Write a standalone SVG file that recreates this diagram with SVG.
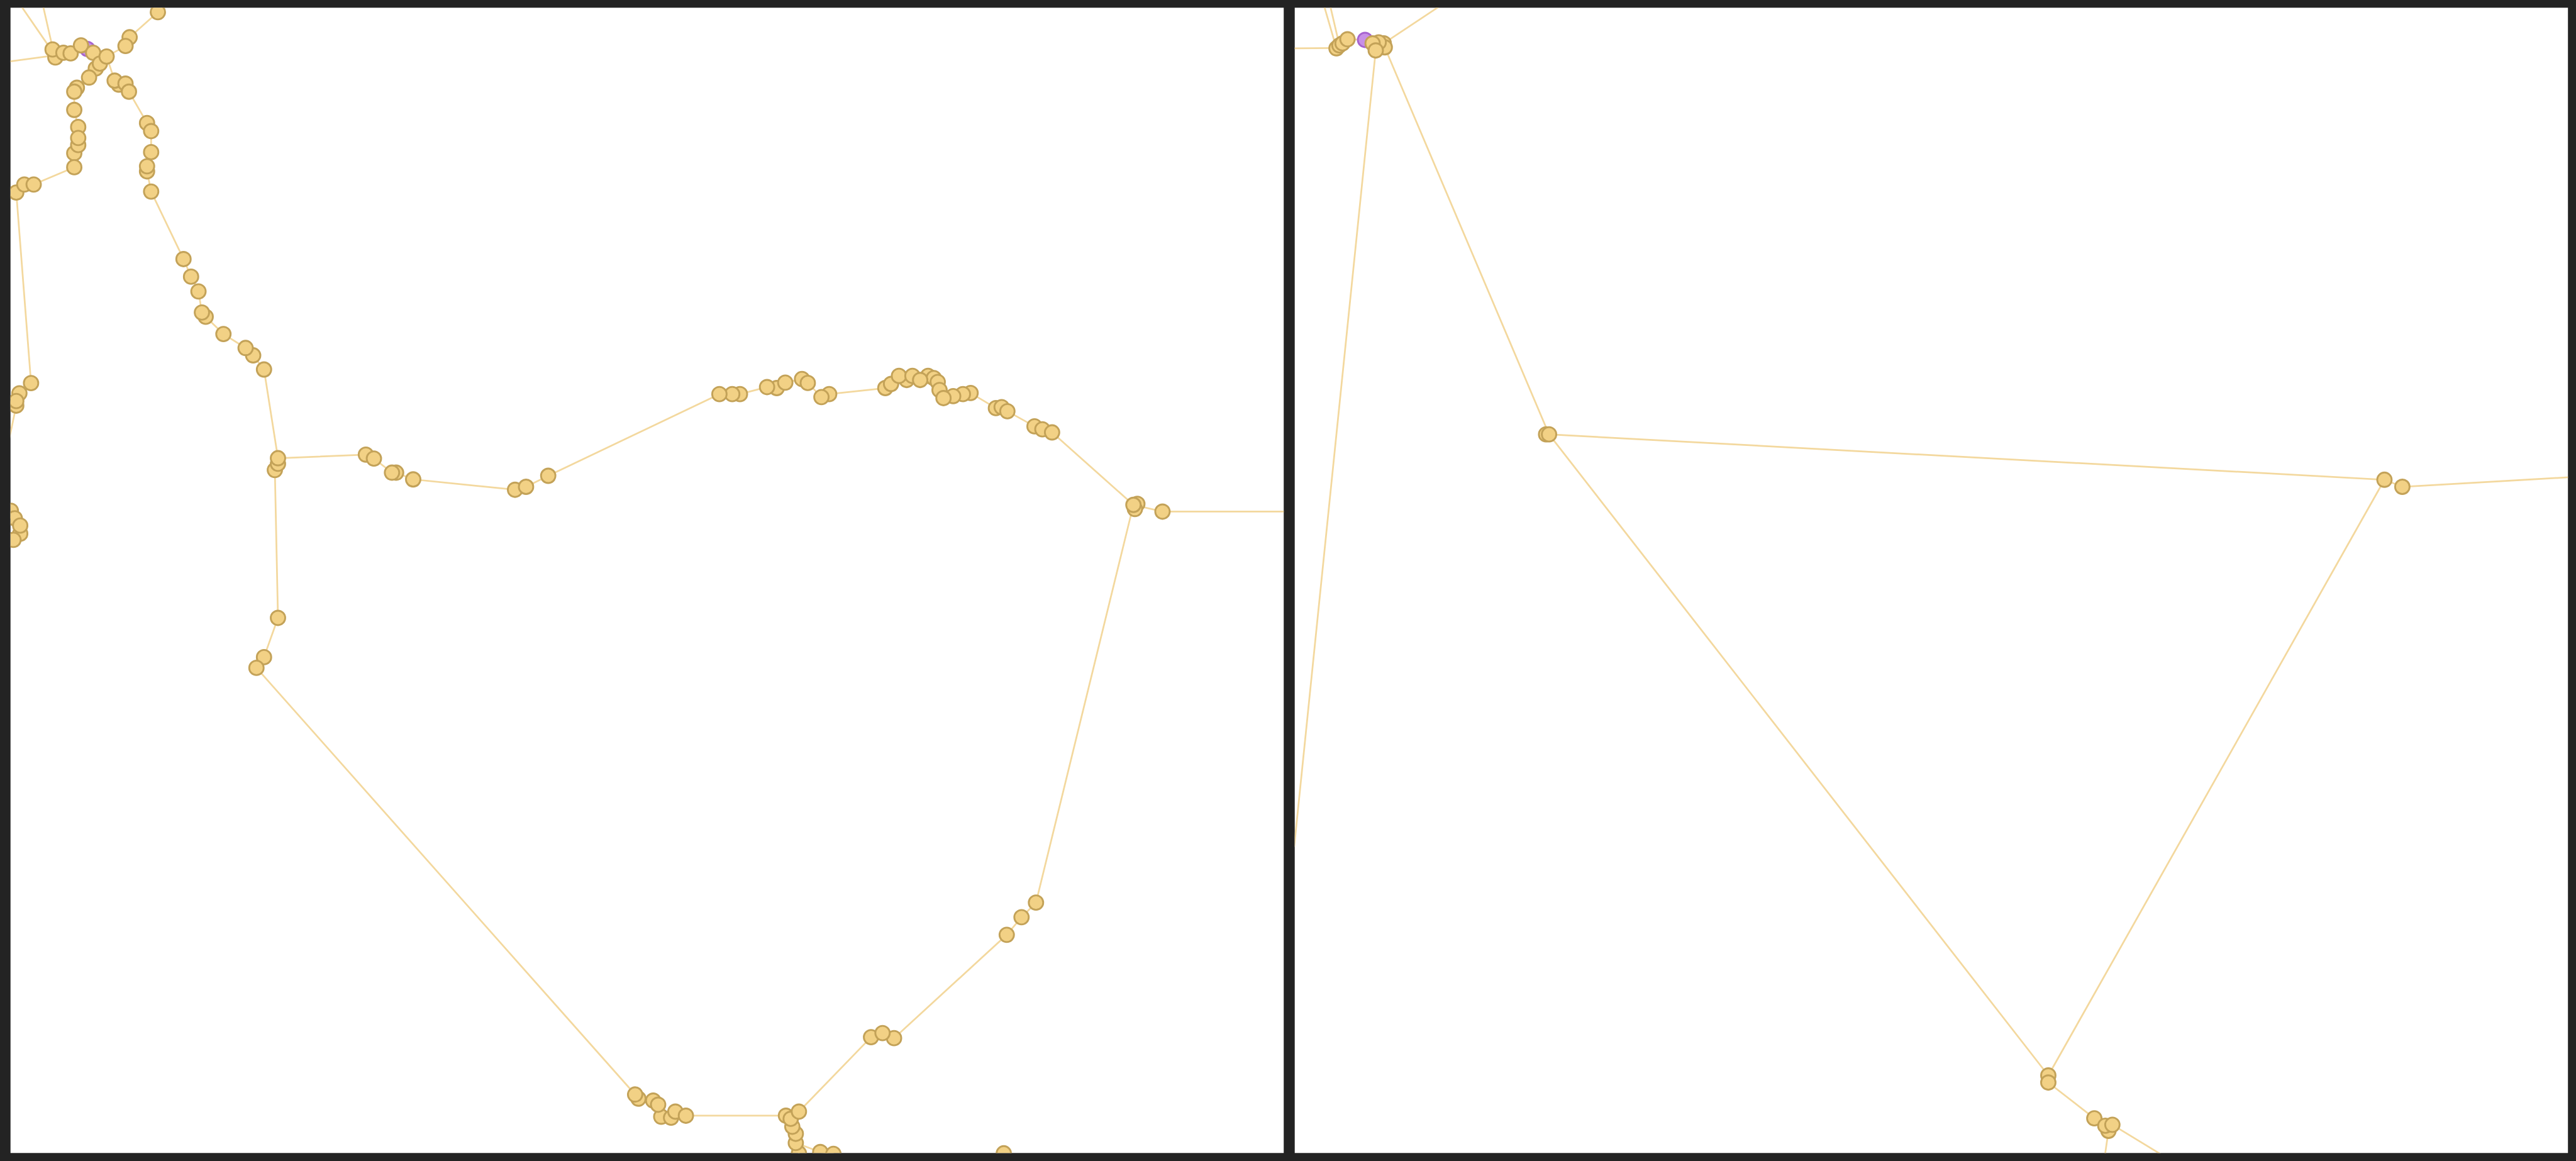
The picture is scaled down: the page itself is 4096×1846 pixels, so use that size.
<svg xmlns="http://www.w3.org/2000/svg" width="4096" height="1846" viewBox="0 0 4096 1846">
<style>
.bg{fill:#232323}
.panel{fill:#ffffff}
.e{fill:none;stroke:#f3d89e;stroke-width:1.05;stroke-linejoin:round;stroke-linecap:round}
.n circle{fill:#f2d185;stroke:#c3a258;stroke-width:1.1}
.p circle{fill:#c890e6;stroke:#a764d0;stroke-width:1.1}
</style>
<defs>
<clipPath id="clipL" clipPathUnits="userSpaceOnUse"><rect x="6.4" y="4.7" width="775" height="697.1"/></clipPath>
<clipPath id="clipR" clipPathUnits="userSpaceOnUse"><rect x="788.1" y="4.7" width="775" height="697.1"/></clipPath>
</defs>
<rect class="bg" x="0" y="0" width="4096" height="1846"/>
<g transform="scale(2.612245)">
<rect class="panel" x="6.4" y="4.7" width="775" height="697.1"/>
<rect class="panel" x="788.1" y="4.7" width="775" height="697.1"/>

<g id="left-panel" clip-path="url(#clipL)">
<g id="connectors-left">
<polyline class="e" points="13.1,4 31,30"/>
<polyline class="e" points="26.3,4 32,29"/>
<polyline class="e" points="6,37.4 31,34"/>
<polyline class="e" points="32,30.1 33.7,35 38.6,32.1 43,32.5 49.3,27.6 53.2,29.8 56.7,32.1 60.8,38.7 64.9,34.4 76.4,28 78.9,22.7 96.1,7.4"/>
<polyline class="e" points="60.8,38.7 58.3,41.7 54.2,47.2 46.8,53.4 45.2,55.8 45.2,66.9 47.6,77.3 47.6,84 47.6,88.3 45.2,93.3 45.2,101.8 20.5,112.3 14.8,112.3 9.9,117.2 18.9,233.2 11.8,239.4 9.9,244.1 9.9,246.9 5,270"/>
<polyline class="e" points="64.9,34.4 69.8,49.1 72.3,51.5 76.4,50.9 78.5,55.8 89.5,74.9 92,79.8 92,92.6 89.5,101.2 89.5,104.3 92,116.6 111.7,157.7 116.3,168.4 120.8,177.4 122.9,190.2 125.2,192.8 136,203.3 149.5,211.8 154.1,216.3 160.7,224.9 169.2,278.9"/>
<polyline class="e" points="169.2,278.9 222.7,276.7 227.6,279.1 238.6,287.7 241.1,287.7 251.5,291.8 313.5,298.1 320.2,296.3 333.7,289.6 437.9,239.9 445.7,239.9 450.4,239.9 466.9,235.6 472.8,236.2 478,232.9 488.2,230.7 491.7,233.1 500,241.7 504.7,239.9 538.9,236.2 542.4,233.7 547.2,228.8 551.9,231.3 555.4,228.8 560.1,231.3 564.9,228.8 568.4,230.1 570.8,232.5 571.9,237.4 574.3,242.3 580.2,241.1 586.1,239.9 590.8,239.2 606.2,248.4 609.7,247.8 613.2,250.3 629.7,259.5 634.5,261.3 640.4,263.2 689.9,307.3 707.6,311.4 782,311.4"/>
<polyline class="e" points="169.2,278.9 167.3,286.1 169.2,376.1 160.7,400 156.1,406.5 386.6,666.2 388.6,668.7 397.6,669.9 400.6,672.4 402.5,679.7 408.5,680.3 411.1,676.6 417.5,679.1 478.4,679.1 481.3,681 486.3,676.6"/>
<polyline class="e" points="486.3,676.6 530.2,631.3 537.2,628.8 544.2,631.9 612.8,569 621.8,558.3 630.6,549.4 689.9,307.3"/>
<polyline class="e" points="481.3,681 482.3,685.8 484.4,690.1 484.4,695.7 486.3,702"/>
<polyline class="e" points="484.4,695.7 499.3,701.2 507.3,702.3"/>
</g>
<g id="nodes-left">
<g id="L-purple" class="p"><circle cx="53.2" cy="29.8" r="4.4"/></g>
<g id="L1" class="n"><circle cx="96.1" cy="7.4" r="4.4"/></g>
<g id="L2" class="n"><circle cx="33.7" cy="35" r="4.4"/></g>
<g id="L3" class="n"><circle cx="32" cy="30.1" r="4.4"/></g>
<g id="L4" class="n"><circle cx="38.6" cy="32.1" r="4.4"/></g>
<g id="L5" class="n"><circle cx="43" cy="32.5" r="4.4"/></g>
<g id="L6" class="n"><circle cx="49.3" cy="27.6" r="4.4"/></g>
<g id="L7" class="n"><circle cx="56.7" cy="32.1" r="4.4"/></g>
<g id="L8" class="n"><circle cx="58.3" cy="41.7" r="4.4"/></g>
<g id="L9" class="n"><circle cx="60.8" cy="38.7" r="4.4"/></g>
<g id="L10" class="n"><circle cx="64.9" cy="34.4" r="4.4"/></g>
<g id="L11" class="n"><circle cx="54.2" cy="47.2" r="4.4"/></g>
<g id="L12" class="n"><circle cx="46.8" cy="53.4" r="4.4"/></g>
<g id="L13" class="n"><circle cx="45.2" cy="55.8" r="4.4"/></g>
<g id="L14" class="n"><circle cx="45.2" cy="66.9" r="4.4"/></g>
<g id="L15" class="n"><circle cx="47.6" cy="77.3" r="4.4"/></g>
<g id="L16" class="n"><circle cx="45.2" cy="93.3" r="4.4"/></g>
<g id="L17" class="n"><circle cx="47.6" cy="88.3" r="4.4"/></g>
<g id="L18" class="n"><circle cx="47.6" cy="84" r="4.4"/></g>
<g id="L19" class="n"><circle cx="45.2" cy="101.8" r="4.4"/></g>
<g id="L20" class="n"><circle cx="9.9" cy="117.2" r="4.4"/></g>
<g id="L21" class="n"><circle cx="14.8" cy="112.3" r="4.4"/></g>
<g id="L22" class="n"><circle cx="20.5" cy="112.3" r="4.4"/></g>
<g id="L23" class="n"><circle cx="78.9" cy="22.7" r="4.4"/></g>
<g id="L24" class="n"><circle cx="76.4" cy="28" r="4.4"/></g>
<g id="L25" class="n"><circle cx="72.3" cy="51.5" r="4.4"/></g>
<g id="L26" class="n"><circle cx="69.8" cy="49.1" r="4.4"/></g>
<g id="L27" class="n"><circle cx="76.4" cy="50.9" r="4.4"/></g>
<g id="L28" class="n"><circle cx="78.5" cy="55.8" r="4.4"/></g>
<g id="L29" class="n"><circle cx="89.5" cy="74.9" r="4.4"/></g>
<g id="L30" class="n"><circle cx="92" cy="79.8" r="4.4"/></g>
<g id="L31" class="n"><circle cx="92" cy="92.6" r="4.4"/></g>
<g id="L32" class="n"><circle cx="89.5" cy="104.3" r="4.4"/></g>
<g id="L33" class="n"><circle cx="89.5" cy="101.2" r="4.4"/></g>
<g id="L34" class="n"><circle cx="92" cy="116.6" r="4.4"/></g>
<g id="L35" class="n"><circle cx="18.9" cy="233.2" r="4.4"/></g>
<g id="L36" class="n"><circle cx="11.8" cy="239.4" r="4.4"/></g>
<g id="L37" class="n"><circle cx="9.9" cy="246.9" r="4.4"/></g>
<g id="L38" class="n"><circle cx="9.9" cy="244.1" r="4.4"/></g>
<g id="L39" class="n"><circle cx="6.6" cy="310.9" r="4.4"/></g>
<g id="L40" class="n"><circle cx="9" cy="315.5" r="4.4"/></g>
<g id="L41" class="n"><circle cx="12.3" cy="324.9" r="4.4"/></g>
<g id="L42" class="n"><circle cx="8.2" cy="328.6" r="4.4"/></g>
<g id="L43" class="n"><circle cx="12.3" cy="319.9" r="4.4"/></g>
<g id="L44" class="n"><circle cx="111.7" cy="157.7" r="4.4"/></g>
<g id="L45" class="n"><circle cx="116.3" cy="168.4" r="4.4"/></g>
<g id="L46" class="n"><circle cx="120.8" cy="177.4" r="4.4"/></g>
<g id="L47" class="n"><circle cx="125.2" cy="192.8" r="4.4"/></g>
<g id="L48" class="n"><circle cx="122.9" cy="190.2" r="4.4"/></g>
<g id="L49" class="n"><circle cx="136" cy="203.3" r="4.4"/></g>
<g id="L50" class="n"><circle cx="154.1" cy="216.3" r="4.4"/></g>
<g id="L51" class="n"><circle cx="149.5" cy="211.8" r="4.4"/></g>
<g id="L52" class="n"><circle cx="160.7" cy="224.9" r="4.4"/></g>
<g id="L53" class="n"><circle cx="167.3" cy="286.1" r="4.4"/></g>
<g id="L54" class="n"><circle cx="169.2" cy="282.3" r="4.4"/></g>
<g id="L55" class="n"><circle cx="169.2" cy="278.9" r="4.4"/></g>
<g id="L56" class="n"><circle cx="222.7" cy="276.7" r="4.4"/></g>
<g id="L57" class="n"><circle cx="227.6" cy="279.1" r="4.4"/></g>
<g id="L58" class="n"><circle cx="241.1" cy="287.7" r="4.4"/></g>
<g id="L59" class="n"><circle cx="238.6" cy="287.7" r="4.4"/></g>
<g id="L60" class="n"><circle cx="251.5" cy="291.8" r="4.4"/></g>
<g id="L61" class="n"><circle cx="313.5" cy="298.1" r="4.4"/></g>
<g id="L62" class="n"><circle cx="320.2" cy="296.3" r="4.4"/></g>
<g id="L63" class="n"><circle cx="333.7" cy="289.6" r="4.4"/></g>
<g id="L64" class="n"><circle cx="450.4" cy="239.9" r="4.4"/></g>
<g id="L65" class="n"><circle cx="445.7" cy="239.9" r="4.4"/></g>
<g id="L66" class="n"><circle cx="437.9" cy="239.9" r="4.4"/></g>
<g id="L67" class="n"><circle cx="472.8" cy="236.2" r="4.4"/></g>
<g id="L68" class="n"><circle cx="466.9" cy="235.6" r="4.4"/></g>
<g id="L69" class="n"><circle cx="478" cy="232.9" r="4.4"/></g>
<g id="L70" class="n"><circle cx="488.2" cy="230.7" r="4.4"/></g>
<g id="L71" class="n"><circle cx="491.7" cy="233.1" r="4.4"/></g>
<g id="L72" class="n"><circle cx="504.7" cy="239.9" r="4.4"/></g>
<g id="L73" class="n"><circle cx="500" cy="241.7" r="4.4"/></g>
<g id="L74" class="n"><circle cx="538.9" cy="236.2" r="4.4"/></g>
<g id="L75" class="n"><circle cx="542.4" cy="233.7" r="4.4"/></g>
<g id="L76" class="n"><circle cx="551.9" cy="231.3" r="4.4"/></g>
<g id="L77" class="n"><circle cx="547.2" cy="228.8" r="4.4"/></g>
<g id="L78" class="n"><circle cx="555.4" cy="228.8" r="4.4"/></g>
<g id="L79" class="n"><circle cx="564.9" cy="228.8" r="4.4"/></g>
<g id="L80" class="n"><circle cx="568.4" cy="230.1" r="4.4"/></g>
<g id="L81" class="n"><circle cx="560.1" cy="231.3" r="4.4"/></g>
<g id="L82" class="n"><circle cx="570.8" cy="232.5" r="4.4"/></g>
<g id="L83" class="n"><circle cx="571.9" cy="237.4" r="4.4"/></g>
<g id="L84" class="n"><circle cx="590.8" cy="239.2" r="4.4"/></g>
<g id="L85" class="n"><circle cx="586.1" cy="239.9" r="4.4"/></g>
<g id="L86" class="n"><circle cx="580.2" cy="241.1" r="4.4"/></g>
<g id="L87" class="n"><circle cx="574.3" cy="242.3" r="4.4"/></g>
<g id="L88" class="n"><circle cx="606.2" cy="248.4" r="4.4"/></g>
<g id="L89" class="n"><circle cx="609.7" cy="247.8" r="4.4"/></g>
<g id="L90" class="n"><circle cx="613.2" cy="250.3" r="4.4"/></g>
<g id="L91" class="n"><circle cx="629.7" cy="259.5" r="4.4"/></g>
<g id="L92" class="n"><circle cx="634.5" cy="261.3" r="4.4"/></g>
<g id="L93" class="n"><circle cx="640.4" cy="263.2" r="4.4"/></g>
<g id="L94" class="n"><circle cx="692.3" cy="306.7" r="4.4"/></g>
<g id="L95" class="n"><circle cx="690.8" cy="309.8" r="4.4"/></g>
<g id="L96" class="n"><circle cx="689.9" cy="307.3" r="4.4"/></g>
<g id="L97" class="n"><circle cx="707.6" cy="311.4" r="4.4"/></g>
<g id="L98" class="n"><circle cx="169.2" cy="376.1" r="4.4"/></g>
<g id="L99" class="n"><circle cx="160.7" cy="400" r="4.4"/></g>
<g id="L100" class="n"><circle cx="156.1" cy="406.5" r="4.4"/></g>
<g id="L101" class="n"><circle cx="388.6" cy="668.7" r="4.4"/></g>
<g id="L102" class="n"><circle cx="386.6" cy="666.2" r="4.4"/></g>
<g id="L103" class="n"><circle cx="402.5" cy="679.7" r="4.4"/></g>
<g id="L104" class="n"><circle cx="397.6" cy="669.9" r="4.4"/></g>
<g id="L105" class="n"><circle cx="400.6" cy="672.4" r="4.4"/></g>
<g id="L106" class="n"><circle cx="408.5" cy="680.3" r="4.4"/></g>
<g id="L107" class="n"><circle cx="411.1" cy="676.6" r="4.4"/></g>
<g id="L108" class="n"><circle cx="417.5" cy="679.1" r="4.4"/></g>
<g id="L109" class="n"><circle cx="486.3" cy="702" r="4.4"/></g>
<g id="L110" class="n"><circle cx="499.3" cy="701.2" r="4.4"/></g>
<g id="L111" class="n"><circle cx="507.3" cy="702.3" r="4.4"/></g>
<g id="L112" class="n"><circle cx="611" cy="702" r="4.4"/></g>
<g id="L113" class="n"><circle cx="484.4" cy="695.7" r="4.4"/></g>
<g id="L114" class="n"><circle cx="484.4" cy="690.1" r="4.4"/></g>
<g id="L115" class="n"><circle cx="482.3" cy="685.8" r="4.4"/></g>
<g id="L116" class="n"><circle cx="478.4" cy="679.1" r="4.4"/></g>
<g id="L117" class="n"><circle cx="481.3" cy="681" r="4.4"/></g>
<g id="L118" class="n"><circle cx="486.3" cy="676.6" r="4.4"/></g>
<g id="L119" class="n"><circle cx="530.2" cy="631.3" r="4.4"/></g>
<g id="L120" class="n"><circle cx="544.2" cy="631.9" r="4.4"/></g>
<g id="L121" class="n"><circle cx="537.2" cy="628.8" r="4.4"/></g>
<g id="L122" class="n"><circle cx="612.8" cy="569" r="4.4"/></g>
<g id="L123" class="n"><circle cx="621.8" cy="558.3" r="4.4"/></g>
<g id="L124" class="n"><circle cx="630.6" cy="549.4" r="4.4"/></g>
</g>
</g>

<g id="right-panel" clip-path="url(#clipR)">
<g id="connectors-right">
<polyline class="e" points="806.1,4 813.5,29.4"/>
<polyline class="e" points="809.8,4 815.3,27.6"/>
<polyline class="e" points="787.5,29.4 812,29.2"/>
<polyline class="e" points="813.5,29.4 815.3,27.6 817.2,26.4 820.2,23.9 830.9,24.3 835.5,26.4 839.2,25.8 842.3,26.4 842.9,28.8 837.4,30.7"/>
<polyline class="e" points="842.3,26.4 876,4"/>
<polyline class="e" points="837.4,30.7 787.8,515"/>
<polyline class="e" points="842.9,28.8 942.9,264.4 1451.4,292 1246.8,654.6 942.9,264.4"/>
<polyline class="e" points="1451.4,292 1462.3,296.3 1564,290.5"/>
<polyline class="e" points="1246.8,658.9 1274.8,680.7 1283.4,685.8"/>
<polyline class="e" points="1285.8,684.6 1316,703"/>
<polyline class="e" points="1283.4,688.3 1281.3,703"/>
</g>
<g id="nodes-right">
<g id="R-purple" class="p"><circle cx="830.9" cy="24.3" r="4.4"/></g>
<g id="R1" class="n"><circle cx="813.5" cy="29.4" r="4.4"/></g>
<g id="R2" class="n"><circle cx="815.3" cy="27.6" r="4.4"/></g>
<g id="R3" class="n"><circle cx="817.2" cy="26.4" r="4.4"/></g>
<g id="R4" class="n"><circle cx="820.2" cy="23.9" r="4.4"/></g>
<g id="R5" class="n"><circle cx="842.3" cy="26.4" r="4.4"/></g>
<g id="R6" class="n"><circle cx="842.9" cy="28.8" r="4.4"/></g>
<g id="R7" class="n"><circle cx="839.2" cy="25.8" r="4.4"/></g>
<g id="R8" class="n"><circle cx="835.5" cy="26.4" r="4.4"/></g>
<g id="R9" class="n"><circle cx="837.4" cy="30.7" r="4.4"/></g>
<g id="R10" class="n"><circle cx="941.1" cy="264.4" r="4.4"/></g>
<g id="R11" class="n"><circle cx="942.9" cy="264.4" r="4.4"/></g>
<g id="R12" class="n"><circle cx="1451.4" cy="292" r="4.4"/></g>
<g id="R13" class="n"><circle cx="1462.3" cy="296.3" r="4.4"/></g>
<g id="R14" class="n"><circle cx="1246.8" cy="654.6" r="4.4"/></g>
<g id="R15" class="n"><circle cx="1246.8" cy="658.9" r="4.4"/></g>
<g id="R16" class="n"><circle cx="1274.8" cy="680.7" r="4.4"/></g>
<g id="R17" class="n"><circle cx="1283.4" cy="688.3" r="4.4"/></g>
<g id="R18" class="n"><circle cx="1281.5" cy="685.2" r="4.4"/></g>
<g id="R19" class="n"><circle cx="1285.8" cy="684.6" r="4.4"/></g>
</g>
</g>
</g>
</svg>
